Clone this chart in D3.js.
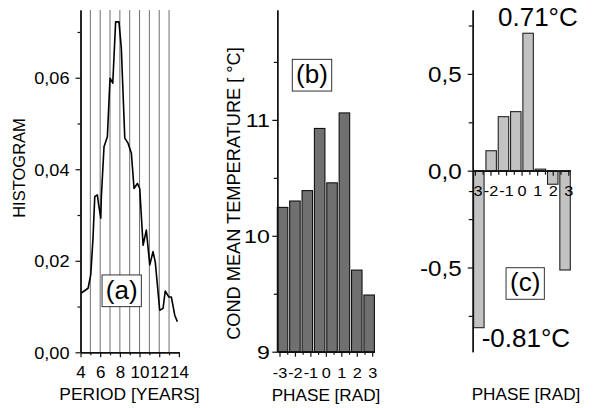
<!DOCTYPE html>
<html><head><meta charset="utf-8">
<script src="https://cdn.jsdelivr.net/npm/d3@7"></script>
<style>html,body{margin:0;padding:0;background:#fff}svg{display:block}</style>
</head><body>
<script>
// ---- data ----
const periodYears = [4.05,4.77,5.04,5.27,5.45,5.71,5.85,6.06,6.12,6.39,6.73,7.0,7.28,7.57,7.91,8.15,8.50,8.83,9.17,9.44,9.78,10.02,10.36,10.69,11.04,11.37,11.6,12.05,12.39,12.61,12.97,13.23,13.58,13.84];
const histogram   = [0.0129,0.0140,0.0169,0.0249,0.0340,0.0344,0.0322,0.0293,0.0340,0.0449,0.0471,0.0599,0.0588,0.0722,0.0722,0.0664,0.0468,0.0457,0.0435,0.0358,0.0369,0.0358,0.0234,0.0267,0.0191,0.0220,0.0197,0.0092,0.0096,0.0134,0.0121,0.0121,0.0081,0.0067];
const gridYears = [5,6,7,8,9,10,11,12,13];
const periodTicks = [4,6,8,10,12,14];
const periodMinor = [5,7,9,11,13];
const histTicks = [0,0.02,0.04,0.06];
const histMinor = [0.01,0.03,0.05,0.07];

const phaseBins = [0,1,2,3,4,5,6,7];
const meanTemp = [10.245,10.30,10.39,10.926,10.457,11.06,9.704,9.489];
const tempTicks = [9,10,11];
const tempMinor = [9.5,10.5,11.5];
const phaseTicks = [-3,-2,-1,0,1,2,3];
const phaseMinor = [-2.5,-1.5,-0.5,0.5,1.5,2.5];

const anomaly = [-0.811,0.103,0.279,0.305,0.71,0.008,-0.07,-0.513];
const anomTicks = [-0.5,0,0.5];
const anomMinor = [-0.75,-0.25,0.25,0.75];
const maxLabel = "0.71°C", minLabel = "-0.81°C";

const FONT = "'Liberation Sans', Arial, Helvetica, sans-serif";
const svg = d3.select("body").append("svg").attr("width",601).attr("height",408);
svg.append("rect").attr("width",601).attr("height",408).attr("fill","#fff");

function txt(x,y,s,size,anchor,sx,rot){
  return svg.append("text").attr("transform",`translate(${x},${y}) rotate(${rot||0}) scale(${sx||1},1)`)
    .attr("font-family",FONT).attr("font-size",size).attr("text-anchor",anchor||"start").attr("fill","#000").text(s);
}
function styleAxis(g,size,sx,off,vertical){
  g.attr("font-family",FONT).attr("font-size",size);
  g.selectAll("path.domain").attr("stroke","#111").attr("stroke-width",1.4);
  g.selectAll(".tick line").attr("stroke","#111").attr("stroke-width",1.2);
  g.selectAll(".tick text").attr("fill","#000").each(function(){
    const t=d3.select(this);
    if(vertical){ t.attr("x",-off/sx).attr("dy","0.36em"); }
    else { t.attr("y",off).attr("dy","0"); }
    t.attr("transform",`scale(${sx},1)`);
  });
}
function labelBox(cx,cy,w,h,s){
  svg.append("rect").attr("x",cx-w/2).attr("y",cy-h/2).attr("width",w).attr("height",h)
    .attr("fill","#fff").attr("stroke","#333").attr("stroke-width",1);
  txt(cx,cy+0.3*26,s,26,"middle",1);
}
const intFmt = d => String(d);

// ---- panel (a) ----
const xA = d3.scaleLinear().domain([4,14]).range([80.5,178.9]);
const yA = d3.scaleLinear().domain([0,0.0748]).range([352.3,10]);
svg.append("g").selectAll("line").data(gridYears).join("line")
  .attr("x1",d=>xA(d)).attr("x2",d=>xA(d)).attr("y1",yA(0)).attr("y2",yA(0.0748))
  .attr("stroke","#5e5e5e").attr("stroke-width",0.9);
svg.append("path").datum(periodYears.map((p,i)=>[p,histogram[i]]))
  .attr("d",d3.line().x(d=>xA(d[0])).y(d=>yA(d[1])))
  .attr("fill","none").attr("stroke","#000").attr("stroke-width",1.6).attr("stroke-linejoin","round");
labelBox(121.7,290.8,39.3,31.7,"(a)");
{
  const gm=svg.append("g").attr("transform",`translate(${xA(4)},0)`)
    .call(d3.axisLeft(yA).tickValues(histMinor).tickSize(3).tickSizeOuter(0).tickFormat(""));
  styleAxis(gm,16,1,0,true);
  const g=svg.append("g").attr("transform",`translate(${xA(4)},0)`)
    .call(d3.axisLeft(yA).tickValues(histTicks).tickSize(5).tickSizeOuter(0).tickFormat(d=>d.toFixed(2).replace(".",",")));
  styleAxis(g,16.5,1.1,11,true);
  const bm=svg.append("g").attr("transform",`translate(0,${yA(0)})`)
    .call(d3.axisBottom(xA).tickValues(periodMinor).tickSize(3).tickSizeOuter(0).tickFormat(""));
  styleAxis(bm,15,1,0,false);
  const b=svg.append("g").attr("transform",`translate(0,${yA(0)})`)
    .call(d3.axisBottom(xA).tickValues(periodTicks).tickSize(5).tickSizeOuter(0).tickFormat(intFmt));
  styleAxis(b,16,1.06,25.5,false);
}
txt(129.5,400,"PERIOD [YEARS]",16,"middle",1.09);
txt(25,168,"HISTOGRAM",16.5,"middle",1,-90);

// ---- panel (b) ----
const xB = d3.scaleLinear().domain([-Math.PI,Math.PI]).range([277.3,374.4]);
const bB = d3.scaleBand().domain(phaseBins).range([277.3,374.4]).paddingInner(0.15).paddingOuter(0);
const yB = d3.scaleLinear().domain([9,11.948]).range([351.7,10]);
svg.append("g").selectAll("rect").data(meanTemp).join("rect")
  .attr("x",(d,i)=>bB(i)).attr("width",bB.bandwidth())
  .attr("y",d=>yB(d)).attr("height",d=>yB(9)-yB(d))
  .attr("fill","#707070").attr("stroke","#111").attr("stroke-width",1.1);
labelBox(312,75.2,39.4,31.7,"(b)");
{
  const gm=svg.append("g").attr("transform",`translate(${xB(-Math.PI)},0)`)
    .call(d3.axisLeft(yB).tickValues(tempMinor).tickSize(3.5).tickSizeOuter(0).tickFormat(""));
  styleAxis(gm,16,1,0,true);
  const g=svg.append("g").attr("transform",`translate(${xB(-Math.PI)},0)`)
    .call(d3.axisLeft(yB).tickValues(tempTicks).tickSize(5).tickSizeOuter(0).tickFormat(intFmt));
  styleAxis(g,18.5,1.25,7.5,true);
  const bm=svg.append("g").attr("transform",`translate(0,${yB(9)})`)
    .call(d3.axisBottom(xB).tickValues(phaseMinor).tickSize(3).tickSizeOuter(0).tickFormat(""));
  styleAxis(bm,14,1,0,false);
  const b=svg.append("g").attr("transform",`translate(0,${yB(9)})`)
    .call(d3.axisBottom(xB).tickValues(phaseTicks).tickSize(5).tickSizeOuter(0).tickFormat(intFmt));
  styleAxis(b,15.5,1.05,26.5,false);
}
txt(326,401,"PHASE [RAD]",16.5,"middle",1.04);
txt(240,193.5,"COND MEAN TEMPERATURE [ °C]",17.5,"middle",1.04,-90);

// ---- panel (c) ----
const xC = d3.scaleLinear().domain([-Math.PI,Math.PI]).range([472.7,570.5]);
const bC = d3.scaleBand().domain(phaseBins).range([473.6,570.3]).paddingInner(0.15).paddingOuter(0);
const yC = d3.scaleLinear().domain([-0.935,0.83]).range([351.7,10]);
svg.append("g").selectAll("rect").data(anomaly).join("rect")
  .attr("x",(d,i)=>bC(i)).attr("width",bC.bandwidth())
  .attr("y",d=>yC(Math.max(0,d))).attr("height",d=>Math.abs(yC(d)-yC(0)))
  .attr("fill","#c2c2c2").attr("stroke","#222").attr("stroke-width",1.1);
labelBox(525.2,283.5,38.3,31.6,"(c)");
{
  const gm=svg.append("g").attr("transform",`translate(${xC(-Math.PI)},0)`)
    .call(d3.axisLeft(yC).tickValues(anomMinor).tickSize(4).tickSizeOuter(0).tickFormat(""));
  styleAxis(gm,16,1,0,true);
  const g=svg.append("g").attr("transform",`translate(${xC(-Math.PI)},0)`)
    .call(d3.axisLeft(yC).tickValues(anomTicks).tickSize(5).tickSizeOuter(0).tickFormat(d=>d.toFixed(1).replace(".",",")));
  styleAxis(g,22,1.1,11,true);
  const bm=svg.append("g").attr("transform",`translate(0,${yC(0)})`)
    .call(d3.axisBottom(xC).tickValues(phaseMinor).tickSize(4).tickSizeOuter(0).tickFormat(""));
  styleAxis(bm,14,1,0,false);
  const b=svg.append("g").attr("transform",`translate(0,${yC(0)})`)
    .call(d3.axisBottom(xC).tickValues(phaseTicks).tickSize(5).tickSizeOuter(0).tickFormat(intFmt));
  styleAxis(b,15.5,1.05,25,false);
}
txt(498,26,maxLabel,26,"start",1);
txt(481.7,347,minLabel,26,"start",1);
txt(526,400,"PHASE [RAD]",16.5,"middle",1.04);
</script>
</body></html>
